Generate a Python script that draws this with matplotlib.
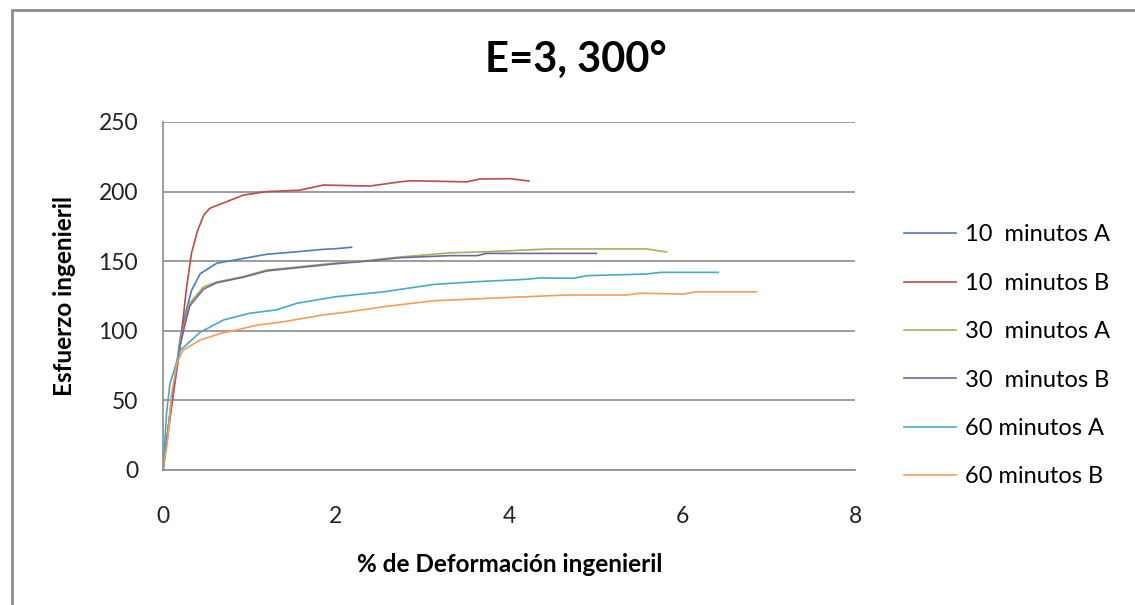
import matplotlib
matplotlib.use("Agg")
import matplotlib.pyplot as plt
from matplotlib.patches import Rectangle

plt.rcParams['font.family'] = ['Lato', 'DejaVu Sans']

# curves: % deformation vs stress
x_10a = [0, 0.1, 0.2, 0.27, 0.33, 0.43, 0.62, 0.93, 1.2, 1.55, 1.85, 2.0, 2.18]
y_10a = [0, 50, 95, 115, 129, 141, 148.5, 152, 155, 156.8, 158.5, 159, 160]

x_10b = [0, 0.11, 0.2, 0.27, 0.33, 0.4, 0.47, 0.54, 0.93, 1.2, 1.58, 1.85, 2.39,
         2.74, 2.86, 3.51, 3.66, 4.01, 4.23]
y_10b = [0, 50, 90, 130, 156, 172, 183, 188, 197.5, 200, 201, 204.7, 204,
         207, 207.8, 207, 209, 209.3, 207.6]

x_30a = [0, 0.1, 0.2, 0.26, 0.31, 0.47, 0.62, 0.93, 1.2, 1.58, 1.97, 2.35, 2.74,
         3.32, 3.74, 4.47, 5.59, 5.82]
y_30a = [0, 50, 92, 108, 120, 131.7, 135, 139, 143.7, 146, 148.5, 150.4, 153,
         156, 156.8, 158.8, 158.8, 156.6]

x_30b = [0, 0.1, 0.2, 0.26, 0.31, 0.47, 0.62, 0.93, 1.2, 1.58, 1.97, 2.35, 2.74,
         3.32, 3.63, 3.74, 5.01]
y_30b = [0, 50, 90, 106, 118, 130, 134.5, 138.5, 143, 145.5, 148, 150, 152.5,
         154, 154, 155.6, 155.6]

x_60a = [0, 0.04, 0.08, 0.2, 0.43, 0.7, 1.0, 1.31, 1.55, 2.0, 2.55, 3.13, 3.63,
         4.2, 4.36, 4.74, 4.9, 5.59, 5.75, 6.42]
y_60a = [0, 40, 62, 86, 99, 107.8, 112.6, 115, 119.8, 124.5, 128, 133.3, 135.3,
         137, 138, 137.7, 139.6, 140.8, 142, 142]

x_60b = [0, 0.05, 0.1, 0.16, 0.23, 0.43, 0.66, 0.85, 1.08, 1.39, 1.85, 2.16, 2.55,
         3.13, 4.01, 4.67, 5.36, 5.51, 6.02, 6.17, 6.86]
y_60b = [0, 20, 55, 76.6, 86, 93.4, 98, 100.6, 104, 106.5, 111.4, 113.7, 117.3,
         121.6, 124, 125.7, 125.7, 127, 126.4, 128, 128]

series = [
    ("10  minutos A", x_10a, y_10a, "#4A7EBB"),
    ("10  minutos B", x_10b, y_10b, "#BE4B48"),
    ("30  minutos A", x_30a, y_30a, "#98B954"),
    ("30  minutos B", x_30b, y_30b, "#7D60A0"),
    ("60 minutos A", x_60a, y_60a, "#46AAC5"),
    ("60 minutos B", x_60b, y_60b, "#F59D56"),
]

fig = plt.figure(figsize=(11.35, 6.05), dpi=100)
fig.patches.append(Rectangle((12 / 1135, -0.1), 1.2, 1 - 10 / 605 + 0.1,
                             transform=fig.transFigure, fill=False,
                             edgecolor="#8C8C8C", linewidth=2))

ax = fig.add_axes([163 / 1135, 1 - 470 / 605, (855 - 163) / 1135, (470 - 122) / 605])
for label, xs, ys, c in series:
    ax.plot(xs, ys, color=c, linewidth=1.2, label=label)

ax.set_xlim(0, 8)
ax.set_ylim(0, 250)
ax.set_xticks([0, 2, 4, 6, 8])
ax.set_yticks([0, 50, 100, 150, 200, 250])
ax.yaxis.grid(True, color="#8C8C8C", linewidth=1.2)
ax.set_axisbelow(True)
ax.tick_params(length=0, labelsize=16.5, colors="#222222")
ax.tick_params(axis="y", pad=18)
ax.tick_params(axis="x", pad=26)
for s in ["top", "right"]:
    ax.spines[s].set_visible(False)
for s in ["left", "bottom"]:
    ax.spines[s].set_color("#8C8C8C")
    ax.spines[s].set_linewidth(1.2)

fig.text(576 / 1135, 1 - 61 / 605, "E=3, 300°", ha="center", va="center",
         fontsize=30, fontweight="bold")
fig.text(64 / 1135, 1 - 296 / 605, "Esfuerzo ingenieril", ha="center", va="center",
         rotation=90, fontsize=17.5, fontweight="bold")
fig.text(510 / 1135, 1 - 565 / 605, "% de Deformación ingenieril", ha="center",
         va="center", fontsize=17.5, fontweight="bold")

ax.legend(loc="upper left", bbox_to_anchor=(895 / 1135, 1 - 215 / 605),
          bbox_transform=fig.transFigure, frameon=False, fontsize=17,
          labelspacing=1.16, handlelength=2.2, handletextpad=0.35,
          borderaxespad=0)

fig.savefig("out.png", dpi=100)
